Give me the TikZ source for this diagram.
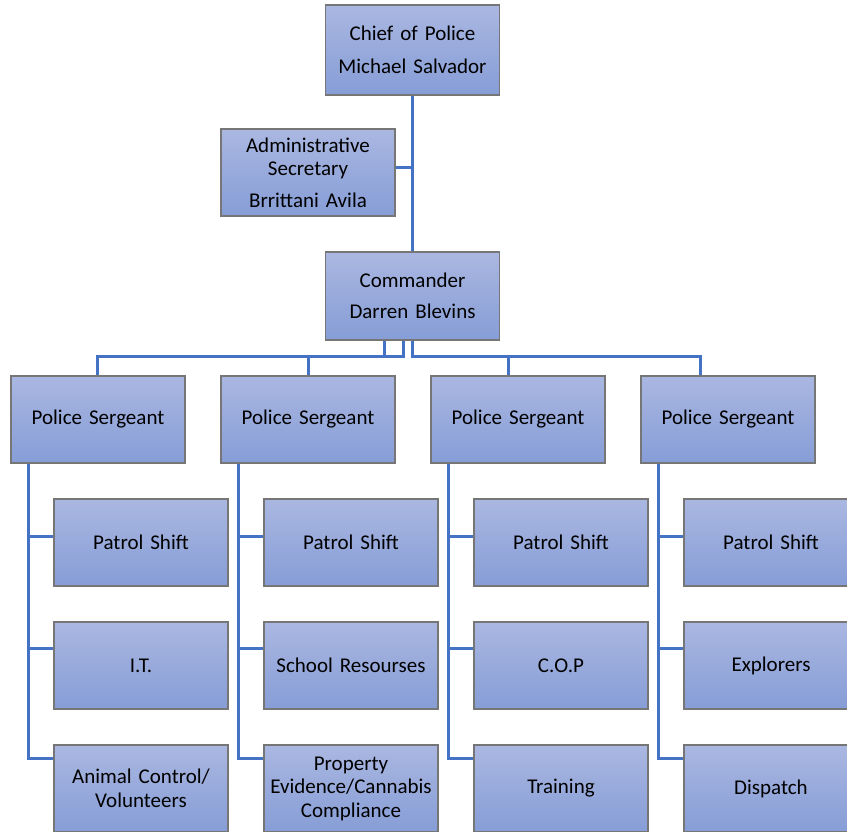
\documentclass[tikz,border=0pt]{standalone}
\usepackage{fontspec}
\setmainfont{Carlito}
\usetikzlibrary{calc}
\definecolor{boxtop}{RGB}{170,183,225}
\definecolor{boxbot}{RGB}{134,157,214}
\definecolor{boxline}{RGB}{118,118,118}
\definecolor{conncol}{RGB}{68,114,196}
\tikzset{
  orgbox/.style={draw=boxline, line width=1.2pt, top color=boxtop, bottom color=boxbot,
    minimum width=174pt, minimum height=87pt, inner sep=2pt, align=center,
    text width=170pt, font=\fontsize{21}{23.5}\selectfont},
  conn/.style={draw=conncol, line width=3pt}
}
\begin{document}
\begin{tikzpicture}[x=1pt,y=-1pt]
\useasboundingbox (0,0) rectangle (847,831);
% top
\node[orgbox, minimum height=90pt] (chief) at (412.5,50) {Chief of Police\\[9pt]Michael Salvador};
\node[orgbox] (adm) at (308,172.5) {Administrative\\Secretary\\[8pt]Brrittani Avila};
\node[orgbox, minimum height=88pt] (cmd) at (412.5,296) {Commander\\[8pt]Darren Blevins};
% sergeants
\foreach \i/\x in {1/98,2/308,3/518,4/728}{
  \node[orgbox] (s\i) at (\x,419.5) {Police Sergeant};
}
% children
\node[orgbox] (c11) at (141,542.5) {Patrol Shift};
\node[orgbox] (c12) at (141,665.5) {I.T.};
\node[orgbox] (c13) at (141,788.5) {Animal Control/\\Volunteers};
\node[orgbox] (c21) at (351,542.5) {Patrol Shift};
\node[orgbox] (c22) at (351,665.5) {School Resourses};
\node[orgbox] (c23) at (351,788.5) {Property\\Evidence/Cannabis\\Compliance};
\node[orgbox] (c31) at (561,542.5) {Patrol Shift};
\node[orgbox] (c32) at (561,665.5) {C.O.P};
\node[orgbox] (c33) at (561,788.5) {Training};
\node[orgbox] (c41) at (771,542.5) {Patrol Shift};
\node[orgbox] (c42) at (771,665.5) {Explorers};
\node[orgbox] (c43) at (771,788.5) {Dispatch};
% connectors top
\draw[conn] (chief.south) -- (cmd.north);
\coordinate (admj) at (chief.south |- 0,167);
\draw[conn] (adm.east |- admj) -- (admj);
% commander to sergeants
\draw[conn] ([xshift=-28.5pt]cmd.south) -- ++(0,16) -| ([xshift=-1pt]s1.north);
\draw[conn] ([xshift=-9.5pt]cmd.south) -- ++(0,16) -| (s2.north);
\draw[conn] (cmd.south) -- ++(0,16) -| ([xshift=-10pt]s3.north);
\draw[conn] (cmd.south) -- ++(0,16) -| ([xshift=-28pt]s4.north);
% sergeants to children
\foreach \i in {1,2,3,4}{
  \draw[conn] ([xshift=-70pt]s\i.south) |- ([yshift=6pt]c\i1.west);
  \draw[conn] ([xshift=-70pt]s\i.south) |- ([yshift=17pt]c\i2.west);
  \draw[conn] ([xshift=-70pt]s\i.south) |- ([yshift=30pt]c\i3.west);
}
\end{tikzpicture}
\end{document}
